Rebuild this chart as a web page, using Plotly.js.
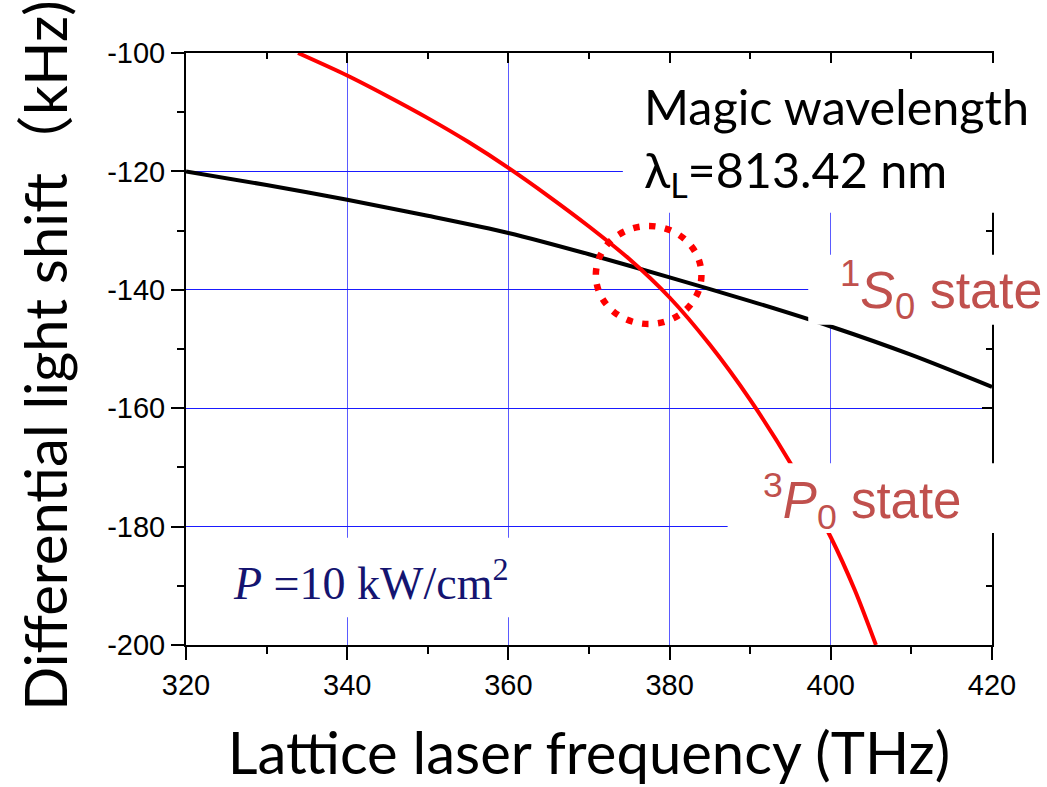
<!DOCTYPE html>
<html>
<head>
<meta charset="utf-8">
<script src="https://cdn.plot.ly/plotly-3.0.1.min.js"></script>
<style>html,body{margin:0;padding:0;background:#fff;}#chart{width:1047px;height:787px;}</style>
</head>
<body>
<div id="chart"></div>
<script>
// 1S0 state (black curve)
const s0Freq  = [320, 330, 340, 350, 360, 370, 380, 390, 400, 410, 420];
const s0Shift = [-120, -122.3, -124.8, -127.5, -130.4, -134.0, -137.9, -141.9, -146.2, -151.0, -156.4];
// 3P0 state (red curve)
const p0Freq  = [333.9, 340, 345, 350, 355, 360, 365, 370, 375, 380, 385, 390, 395, 400, 403, 405.6];
const p0Shift = [-100, -103.8, -107.3, -111.0, -115.0, -119.4, -124.2, -129.3, -134.8, -141.3, -149.3, -158.6, -169.3, -181.8, -190.8, -200];
// axis ticks
const xTickVals = [320, 340, 360, 380, 400, 420];
const xTickText = ["320", "340", "360", "380", "400", "420"];
const yTickVals = [-200, -180, -160, -140, -120, -100];
const yTickText = ["-200", "-180", "-160", "-140", "-120", "-100"];
// magic crossing marker (center and half-widths)
const magicFreq = [377.4];
const magicShift = [-137.5];
const magicHalfWidth = [6.55];
const magicHalfHeight = [8.28];

const tickFont = {family: "'Liberation Sans', Arial, sans-serif", size: 29, color: "#000"};
const titleFontX = {family: "Lato, 'Noto Sans CJK JP', sans-serif", size: 58, color: "#000"};
const titleFontY = {family: "Lato, 'Noto Sans CJK JP', sans-serif", size: 58, color: "#000"};

const traces = [
  {x: s0Freq, y: s0Shift, mode: "lines", line: {color: "#000", width: 4, shape: "spline", smoothing: 0.8}, hoverinfo: "skip"},
  {x: p0Freq, y: p0Shift, mode: "lines", line: {color: "#ff0000", width: 4, shape: "spline", smoothing: 0.8}, hoverinfo: "skip"},
  {x: [], y: [], xaxis: "x2", yaxis: "y2", mode: "lines", hoverinfo: "skip"}
];

const layout = {
  width: 1047, height: 787,
  margin: {l: 186, r: 55, t: 53, b: 142},
  paper_bgcolor: "#fff", plot_bgcolor: "#fff",
  showlegend: false,
  xaxis: {
    range: [320, 420], tickvals: xTickVals, ticktext: xTickText,
    ticks: "outside", ticklen: 13, tickwidth: 2, tickcolor: "#000",
    minor: {dtick: 10, tick0: 320, ticks: "outside", ticklen: 7, tickwidth: 2, tickcolor: "#000", showgrid: false},
    showline: true, linecolor: "#000", linewidth: 2, mirror: true,
    showgrid: true, gridcolor: "#5a5aff", gridwidth: 1.3, zeroline: false,
    tickfont: tickFont,
    title: {text: "Lattice laser frequency (THz)", font: titleFontX, standoff: 34}
  },
  yaxis: {
    range: [-200, -100], tickvals: yTickVals, ticktext: yTickText,
    ticks: "outside", ticklen: 13, tickwidth: 2, tickcolor: "#000",
    minor: {dtick: 10, tick0: -200, ticks: "outside", ticklen: 7, tickwidth: 2, tickcolor: "#000", showgrid: false},
    showline: true, linecolor: "#000", linewidth: 2, mirror: true,
    showgrid: true, gridcolor: "#1a1aff", gridwidth: 1, zeroline: false,
    tickfont: tickFont
  },
  xaxis2: {
    overlaying: "x", side: "top", anchor: "y", range: [320, 420], tickvals: xTickVals,
    showticklabels: false, ticks: "inside", ticklen: 10, tickwidth: 2, tickcolor: "#000",
    minor: {dtick: 10, tick0: 320, ticks: "inside", ticklen: 6, tickwidth: 2, tickcolor: "#000"},
    showgrid: false, zeroline: false, showline: false
  },
  yaxis2: {
    overlaying: "y", side: "right", anchor: "x", range: [-200, -100], tickvals: yTickVals,
    showticklabels: false, ticks: "inside", ticklen: 10, tickwidth: 2, tickcolor: "#000",
    minor: {dtick: 10, tick0: -200, ticks: "inside", ticklen: 6, tickwidth: 2, tickcolor: "#000"},
    showgrid: false, zeroline: false, showline: false
  },
  shapes: [
    {type: "circle", xref: "x", yref: "y",
     x0: magicFreq[0] - magicHalfWidth[0], x1: magicFreq[0] + magicHalfWidth[0],
     y0: magicShift[0] - magicHalfHeight[0], y1: magicShift[0] + magicHalfHeight[0],
     line: {color: "#ff0000", width: 6.5, dash: "6.5px,9.5px"}, fillcolor: "rgba(0,0,0,0)", layer: "above"},
    // white label backgrounds
    {type: "rect", xref: "paper", yref: "paper", x0: 0.542, x1: 1.1, y0: 0.730, y1: 0.983, fillcolor: "#fff", line: {width: 0}, layer: "above"},
    {type: "rect", xref: "paper", yref: "paper", x0: 0.772, x1: 1.1, y0: 0.541, y1: 0.659, fillcolor: "#fff", line: {width: 0}, layer: "above"},
    {type: "rect", xref: "paper", yref: "paper", x0: 0.672, x1: 1.03, y0: 0.189, y1: 0.307, fillcolor: "#fff", line: {width: 0}, layer: "above"},
    {type: "rect", xref: "paper", yref: "paper", x0: 0.02, x1: 0.43, y0: 0.047, y1: 0.181, fillcolor: "#fff", line: {width: 0}, layer: "above"}
  ],
  annotations: [
    {xref: "paper", yref: "paper", x: -0.175, y: 0.49, xanchor: "center", yanchor: "middle", textangle: -90, showarrow: false,
     text: "Differential light shift（kHz)", font: titleFontY},
    {xref: "paper", yref: "paper", x: 0.566, y: 0.851, xanchor: "left", yanchor: "middle", align: "left", showarrow: false,
     text: "Magic wavelength<br>λ<sub>L</sub>=813.42 nm",
     font: {family: "Lato, 'Noto Sans', sans-serif", size: 48.5, color: "#000"}},
    {xref: "paper", yref: "paper", x: 0.809, y: 0.600, xanchor: "left", yanchor: "middle", showarrow: false,
     text: "<sup>1</sup><i>S</i><sub>0</sub> state",
     font: {family: "'Liberation Sans', Arial, sans-serif", size: 52, color: "#c0504d"}},
    {xref: "paper", yref: "paper", x: 0.713, y: 0.244, xanchor: "left", yanchor: "middle", showarrow: false,
     text: "<sup>3</sup><i>P</i><sub>0</sub> state",
     font: {family: "'Liberation Sans', Arial, sans-serif", size: 51, color: "#c0504d"}},
    {xref: "paper", yref: "paper", x: 0.056, y: 0.11, xanchor: "left", yanchor: "middle", showarrow: false,
     text: "<i>P</i> =10 kW/cm<sup>2</sup>",
     font: {family: "'Liberation Serif', 'Times New Roman', serif", size: 46, color: "#141470"}}
  ]
};

Plotly.newPlot("chart", traces, layout, {staticPlot: true, displayModeBar: false});
</script>
</body>
</html>
